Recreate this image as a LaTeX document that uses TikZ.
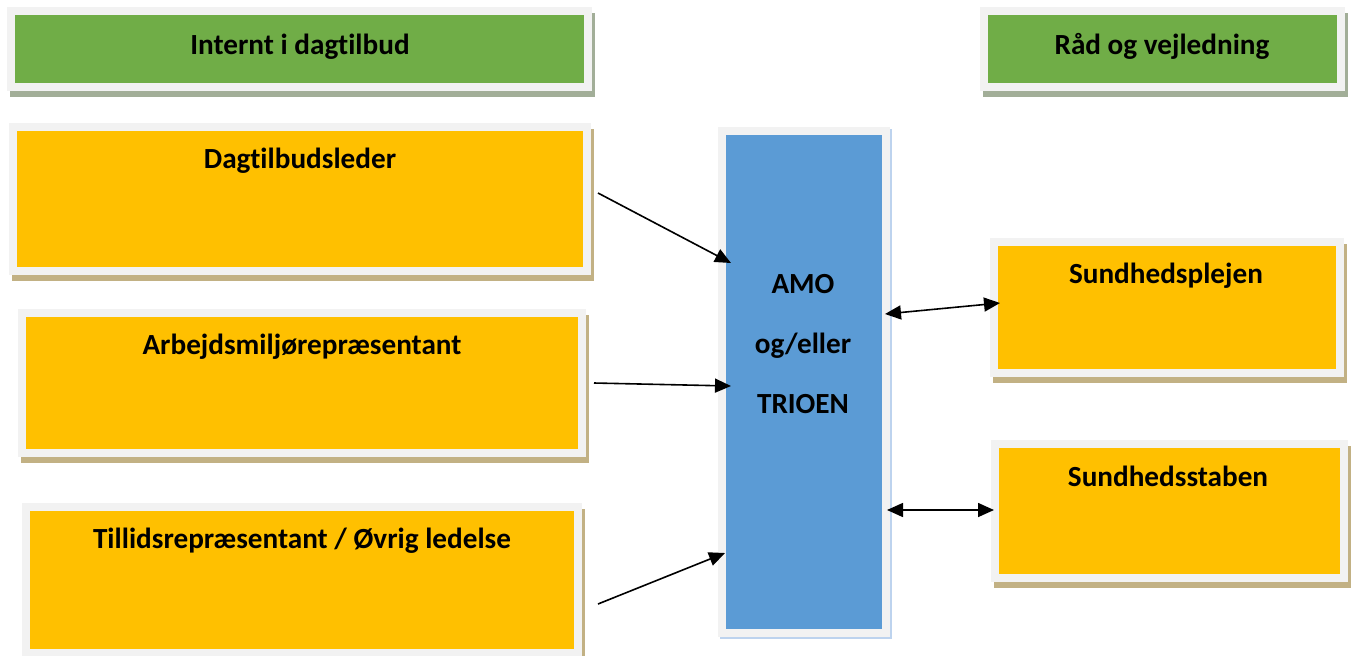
\documentclass[tikz,border=0pt]{standalone}
\usepackage{fontspec}
\setmainfont{Carlito}[Ligatures=NoCommon]
\usetikzlibrary{arrows.meta, shadows, positioning}

\definecolor{framegrey}{HTML}{F2F2F2}
\definecolor{boxgreen}{HTML}{70AD47}
\definecolor{boxyellow}{HTML}{FFC000}
\definecolor{boxblue}{HTML}{5B9BD5}
\definecolor{shadowtan}{HTML}{C2B184}
\definecolor{shadowgreen}{HTML}{A2AE98}
\definecolor{shadowblue}{HTML}{BDD3EE}

\begin{document}
\begin{tikzpicture}[x=0.5pt, y=-0.5pt,
    >={Triangle[length=8pt,width=7pt]},
    panel/.style={fill=framegrey, inner sep=0pt, outer sep=0pt,
        path picture={\fill[#1] ([shift={(4pt,-4pt)}]path picture bounding box.north west)
            rectangle ([shift={(-4pt,4pt)}]path picture bounding box.south east);}},
    greenbox/.style={panel=boxgreen, drop shadow={shadow xshift=1.5pt, shadow yshift=-3pt, fill=shadowgreen, opacity=1}},
    yellowbox/.style={panel=boxyellow, drop shadow={shadow xshift=1.5pt, shadow yshift=-3pt, fill=shadowtan, opacity=1}},
    bluebox/.style={panel=boxblue, drop shadow={shadow xshift=1pt, shadow yshift=-1pt, fill=shadowblue, opacity=1}},
    boxtext/.style={font=\bfseries\fontsize{14.6pt}{17pt}\selectfont, anchor=base, inner sep=0pt},
    link/.style={line width=0.8pt}]
                \useasboundingbox (0,0) rectangle (1351,655);

                % Headings
                \node[greenbox, minimum width=292.5pt, minimum height=42pt] (intern) at (299.5,49) {};
                \node[boxtext] (internTxt) at (300,54) {Internt i dagtilbud};
                \node[greenbox, minimum width=182.5pt, minimum height=42pt] (raad) at (1162.5,49) {};
                \node[boxtext] (raadTxt) at (1162,54) {Råd og vejledning};

                % Left column
                \node[yellowbox, minimum width=291pt, minimum height=76pt] (leder) at (300,199) {};
                \node[boxtext] (lederTxt) at (300,168) {Dagtilbudsleder};
                \node[yellowbox, minimum width=284pt, minimum height=74pt] (amr) at (302,383) {};
                \node[boxtext] (amrTxt) at (302,354) {Arbejdsmiljørepræsentant};
                \node[yellowbox, minimum width=280pt, minimum height=77pt] (tr) at (302,580) {};
                \node[boxtext] (trTxt) at (302,548) {Tillidsrepræsentant / Øvrig ledelse};

                % Middle
                \node[bluebox, minimum width=86pt, minimum height=255pt] (amo) at (804,382) {};
                \node[boxtext] (amoTxt) at (803,293) {AMO};
                \node[boxtext] (ogTxt) at (803,353) {og/eller};
                \node[boxtext] (trioTxt) at (803,413) {TRIOEN};

                % Right column
                \node[yellowbox, minimum width=177pt, minimum height=69.5pt] (plejen) at (1167,307.5) {};
                \node[boxtext] (plejenTxt) at (1166,283) {Sundhedsplejen};
                \node[yellowbox, minimum width=178.5pt, minimum height=71pt] (staben) at (1169.5,511) {};
                \node[boxtext] (stabenTxt) at (1168,486) {Sundhedsstaben};

                % Connections: left into AMO
                \draw[link, ->] ([shift={(7,-6)}]leder.east) -- ([shift={(13,-119)}]amo.west);
                \draw[link, ->] ([shift={(8,0)}]amr.east) -- ([shift={(13,4)}]amo.west);
                \draw[link, ->] ([shift={(16,24)}]tr.east) -- ([shift={(7,171)}]amo.west);

                % Connections: AMO and advice
                \draw[link, <->] ([shift={(-5,-68)}]amo.east) -- ([shift={(10,-4.5)}]plejen.west);
                \draw[link, <->] ([shift={(-3,128)}]amo.east) -- ([shift={(3,-1)}]staben.west);
            \end{tikzpicture}
\end{document}
